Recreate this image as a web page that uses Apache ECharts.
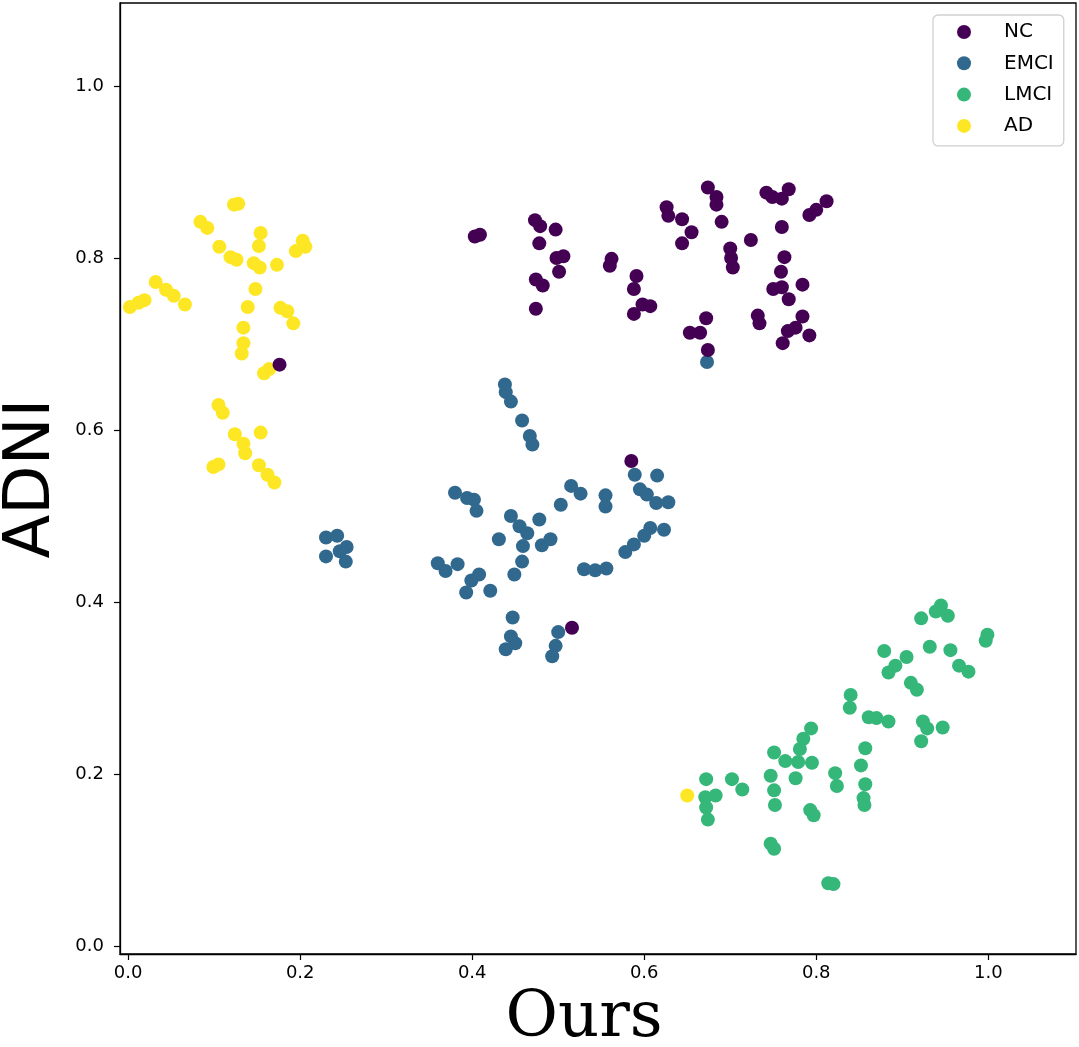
<!DOCTYPE html>
<html>
<head>
<meta charset="utf-8">
<script src="https://cdn.jsdelivr.net/npm/echarts@6/dist/echarts.min.js"></script>
<style>
  html, body { margin: 0; padding: 0; background: #fff; }
  #chart { width: 1079px; height: 1047px; }
</style>
</head>
<body>
<div id="chart"></div>
<script>
// class names, legend order
const classNames = ['NC', 'EMCI', 'LMCI', 'AD']
const classColors = ['#440154', '#31688e', '#35b779', '#fde725']
const tickValues = [0, 0.2, 0.4, 0.6, 0.8, 1.0]

// points, [Ours, ADNI]
const ncPoints = [
  [0.403,0.825],[0.409,0.827],[0.473,0.844],[0.479,0.837],[0.497,0.833],[0.478,0.817],
  [0.498,0.800],[0.506,0.802],[0.501,0.784],[0.474,0.775],[0.482,0.768],[0.474,0.741],
  [0.562,0.799],[0.560,0.791],[0.591,0.779],[0.588,0.764],[0.598,0.746],[0.607,0.744],
  [0.588,0.735],[0.626,0.859],[0.628,0.849],[0.644,0.845],[0.655,0.830],[0.644,0.817],
  [0.674,0.882],[0.684,0.871],[0.684,0.862],[0.690,0.842],[0.700,0.811],[0.701,0.800],
  [0.703,0.789],[0.724,0.821],[0.742,0.876],[0.749,0.871],[0.760,0.869],[0.768,0.880],
  [0.760,0.836],[0.792,0.850],[0.800,0.856],[0.812,0.866],[0.763,0.801],[0.759,0.784],
  [0.750,0.764],[0.760,0.766],[0.768,0.752],[0.784,0.769],[0.672,0.730],[0.653,0.713],
  [0.665,0.713],[0.674,0.693],[0.732,0.733],[0.734,0.724],[0.784,0.732],[0.767,0.715],
  [0.776,0.719],[0.792,0.710],[0.761,0.701],
  [0.176,0.676],[0.585,0.564],[0.516,0.370]
]
const emciPoints = [
  [0.438,0.653],[0.439,0.644],[0.445,0.633],[0.458,0.611],[0.467,0.593],[0.470,0.583],
  [0.589,0.548],[0.615,0.547],[0.595,0.531],[0.603,0.525],[0.614,0.515],[0.628,0.516],
  [0.555,0.524],[0.555,0.511],[0.515,0.535],[0.526,0.526],[0.503,0.513],[0.380,0.527],
  [0.394,0.521],[0.402,0.519],[0.405,0.506],[0.445,0.500],[0.478,0.496],[0.455,0.488],
  [0.464,0.480],[0.431,0.473],[0.459,0.465],[0.481,0.466],[0.491,0.473],[0.458,0.447],
  [0.449,0.432],[0.623,0.484],[0.607,0.486],[0.600,0.477],[0.588,0.467],[0.578,0.458],
  [0.530,0.438],[0.543,0.437],[0.556,0.439],[0.230,0.475],[0.243,0.477],[0.230,0.453],
  [0.246,0.459],[0.254,0.464],[0.253,0.447],[0.360,0.445],[0.369,0.436],[0.383,0.444],
  [0.399,0.425],[0.408,0.432],[0.393,0.411],[0.421,0.413],[0.447,0.382],[0.445,0.360],
  [0.450,0.352],[0.439,0.345],[0.500,0.365],[0.497,0.349],[0.493,0.337],[0.673,0.679]
]
const lmciPoints = [
  [0.945,0.396],[0.939,0.389],[0.953,0.384],[0.922,0.381],[0.999,0.362],[0.997,0.355],
  [0.932,0.348],[0.956,0.344],[0.879,0.343],[0.905,0.336],[0.892,0.326],[0.884,0.318],
  [0.966,0.326],[0.977,0.319],[0.910,0.306],[0.917,0.298],[0.840,0.292],[0.839,0.277],
  [0.861,0.266],[0.870,0.265],[0.884,0.261],[0.924,0.261],[0.929,0.253],[0.947,0.254],
  [0.922,0.238],[0.794,0.253],[0.785,0.241],[0.781,0.229],[0.751,0.225],[0.764,0.215],
  [0.779,0.214],[0.795,0.213],[0.776,0.195],[0.747,0.198],[0.751,0.181],[0.752,0.164],
  [0.857,0.230],[0.852,0.210],[0.822,0.201],[0.824,0.186],[0.857,0.188],[0.855,0.172],
  [0.856,0.164],[0.672,0.194],[0.702,0.194],[0.714,0.182],[0.671,0.173],[0.683,0.175],
  [0.672,0.161],[0.674,0.147],[0.793,0.158],[0.797,0.152],[0.747,0.119],[0.751,0.113],
  [0.814,0.073],[0.820,0.072]
]
const adPoints = [
  [0.123,0.862],[0.128,0.863],[0.084,0.842],[0.092,0.835],[0.154,0.829],[0.152,0.814],
  [0.203,0.820],[0.206,0.813],[0.195,0.808],[0.106,0.813],[0.119,0.801],[0.126,0.798],
  [0.146,0.794],[0.153,0.789],[0.173,0.792],[0.032,0.772],[0.044,0.763],[0.053,0.756],
  [0.002,0.743],[0.012,0.748],[0.019,0.751],[0.066,0.746],[0.148,0.764],[0.139,0.743],
  [0.177,0.742],[0.185,0.738],[0.192,0.724],[0.134,0.719],[0.134,0.701],[0.132,0.689],
  [0.158,0.666],[0.164,0.671],[0.105,0.629],[0.110,0.620],[0.124,0.595],[0.134,0.584],
  [0.136,0.573],[0.154,0.597],[0.099,0.557],[0.105,0.560],[0.152,0.559],[0.162,0.548],
  [0.170,0.539],[0.650,0.175]
]
const pointSets = [ncPoints, emciPoints, lmciPoints, adPoints]

var chart = echarts.init(document.getElementById('chart'))

const tickFmt = v => v.toFixed(1)
const axisCommon = {
  type: 'value',
  splitLine: { show: false },
  axisLine: { show: true, onZero: false, lineStyle: { color: '#000', width: 1.3 } },
  axisTick: { show: true, inside: false, length: 6, lineStyle: { color: '#000', width: 1.2 }, customValues: tickValues },
  axisLabel: { customValues: tickValues, formatter: tickFmt, color: '#000', fontSize: 18, fontFamily: 'DejaVu Sans' }
}

// matplotlib puts later points on top; purple sits over yellow in the picture
const drawOrder = [3, 2, 1, 0]
const series = drawOrder.map(i => ({
  name: classNames[i],
  type: 'scatter',
  data: pointSets[i],
  symbol: 'circle',
  symbolSize: 14,
  itemStyle: { color: classColors[i], opacity: 1 },
  emphasis: { disabled: true },
  animation: false
}))

let option = {
  backgroundColor: '#fff',
  animation: false,
  grid: {
    left: 120, right: 3, top: 3, bottom: 93,
    outerBoundsMode: 'none', containLabel: false,
    show: true, borderColor: '#000', borderWidth: 1.3, backgroundColor: 'transparent'
  },
  xAxis: Object.assign({}, axisCommon, {
    min: -0.0095, max: 1.102,
    name: 'Ours', nameLocation: 'middle', nameGap: 24,
    nameTextStyle: { fontFamily: 'DejaVu Serif', fontSize: 64, color: '#000', padding: [0, 28, 0, 0] },
    axisLabel: Object.assign({}, axisCommon.axisLabel, { margin: 10 })
  }),
  yAxis: Object.assign({}, axisCommon, {
    min: -0.0093, max: 1.0965,
    name: 'ADNI', nameLocation: 'middle', nameGap: 56, nameRotate: 90,
    nameTextStyle: { fontFamily: 'DejaVu Sans', fontSize: 64, color: '#000' },
    axisLabel: Object.assign({}, axisCommon.axisLabel, { margin: 16 })
  }),
  legend: {
    data: classNames,
    orient: 'vertical',
    left: 933, top: 15,
    padding: [7, 10, 10, 24],
    itemGap: 11.3,
    itemWidth: 54, itemHeight: 14,
    icon: 'circle',
    backgroundColor: '#fff',
    borderColor: '#d0d0d0', borderWidth: 1.3, borderRadius: 5,
    textStyle: { fontFamily: 'DejaVu Sans', fontSize: 20, lineHeight: 20, color: '#000', padding: [0, 0, 0, 8] }
  },
  series: series
}
chart.setOption(option)
</script>
</body>
</html>
